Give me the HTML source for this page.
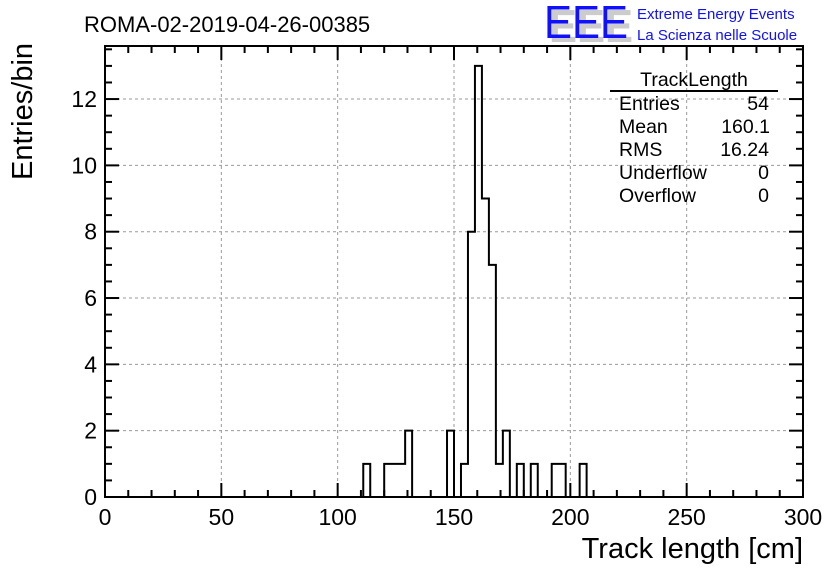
<!DOCTYPE html>
<html><head><meta charset="utf-8"><style>
body{margin:0;background:#fff}
svg{display:block;font-family:"Liberation Sans",sans-serif}
</style></head><body>
<svg id="c" width="836" height="572" xmlns="http://www.w3.org/2000/svg">
<rect width="836" height="572" fill="#fff"/>
<text x="84" y="32" font-size="22">ROMA-02-2019-04-26-00385</text>
<g>
<text x="549" y="42" font-size="46" fill="#ccc" font-weight="bold" textLength="84" lengthAdjust="spacingAndGlyphs">EEE</text>
<text x="544" y="38" font-size="46" fill="#1010ff" textLength="84" lengthAdjust="spacingAndGlyphs">EEE</text>
<text x="637" y="19" font-size="15" fill="#1010ff">Extreme Energy Events</text>
<text x="637" y="40" font-size="15" fill="#1010ff">La Scienza nelle Scuole</text>
</g>
<g id="grid"></g>
<g id="ticks"></g>
<path id="hist" fill="none" stroke="#000" stroke-width="2"/>
<rect x="105" y="46" width="698" height="451" fill="none" stroke="#000" stroke-width="2"/>
<g font-size="19.5">
<text x="694" y="86" text-anchor="middle">TrackLength</text>
<line x1="610" y1="91" x2="778" y2="91" stroke="#000" stroke-width="2"/>
<text x="619" y="110">Entries</text><text x="769" y="110" text-anchor="end">54</text>
<text x="619" y="133">Mean</text><text x="770" y="133" text-anchor="end">160.1</text>
<text x="619" y="156">RMS</text><text x="769" y="156" text-anchor="end">16.24</text>
<text x="619" y="179">Underflow</text><text x="769" y="179" text-anchor="end">0</text>
<text x="619" y="202">Overflow</text><text x="769" y="202" text-anchor="end">0</text>
</g>
<text x="803" y="558" font-size="29" text-anchor="end">Track length [cm]</text>
<text transform="translate(32,180) rotate(-90)" font-size="29">Entries/bin</text>
</svg>
<script>
const binWidth = 3;
const binStarts = [111,120,123,126,129,147,153,156,159,162,165,168,171,177,183,192,195,204];
const binCounts = [1,1,1,1,2,2,1,8,13,9,7,1,2,1,1,1,1,1];
const xTicks = [0,50,100,150,200,250,300];
const yTicks = [0,2,4,6,8,10,12];
const X0=105,X1=803,Y0=497,Y1=46,xmax=300,ymax=13.6;
const sx=v=>X0+(v/xmax)*(X1-X0);
const sy=v=>Y0-(v/ymax)*(Y0-Y1);
const NS="http://www.w3.org/2000/svg";
const grid=document.getElementById('grid'),ticks=document.getElementById('ticks');
function ln(p,x1,y1,x2,y2,st,w,d){const l=document.createElementNS(NS,'line');l.setAttribute('x1',x1);l.setAttribute('y1',y1);l.setAttribute('x2',x2);l.setAttribute('y2',y2);l.setAttribute('stroke',st);l.setAttribute('stroke-width',w);if(d)l.setAttribute('stroke-dasharray',d);p.appendChild(l);return l;}
function tx(x,y,s,a){const t=document.createElementNS(NS,'text');t.setAttribute('x',x);t.setAttribute('y',y);t.setAttribute('font-size',23);t.setAttribute('text-anchor',a);t.textContent=s;ticks.appendChild(t);return t;}
xTicks.forEach(v=>{const x=sx(v);
 if(v>0&&v<xmax){const g=ln(grid,x,Y1,x,Y0,'#999',1,'3,3');
 
 }
 const t=tx(x,525,String(v),'middle');
 
 });
yTicks.forEach(v=>{const y=sy(v);
 if(v>0){const g=ln(grid,X0,y,X1,y,'#999',1,'3,3');
 
 }
 const t=tx(97,y+8,String(v),'end');
 
 });
for(let v=0;v<=xmax;v+=10){const x=sx(v),L=(v%50===0)?14:7;
 ln(ticks,x,Y0,x,Y0-L,'#000',2);ln(ticks,x,Y1,x,Y1+L,'#000',2);}
for(let v=0;v<=ymax;v+=0.5){const y=sy(v),L=(v%2===0)?14:7;
 ln(ticks,X0,y,X0+L,y,'#000',2);ln(ticks,X1,y,X1-L,y,'#000',2);}
const counts=new Array(100).fill(0);
binStarts.forEach((s,i)=>{counts[Math.round(s/binWidth)]=binCounts[i];});
let d='M'+sx(0)+','+sy(0);
for(let i=0;i<counts.length;i++){const xa=sx(i*binWidth),xb=sx((i+1)*binWidth);
 d+=' L'+xa+','+sy(counts[i])+' L'+xb+','+sy(counts[i]);}
document.getElementById('hist').setAttribute('d',d);
</script>
</body></html>
